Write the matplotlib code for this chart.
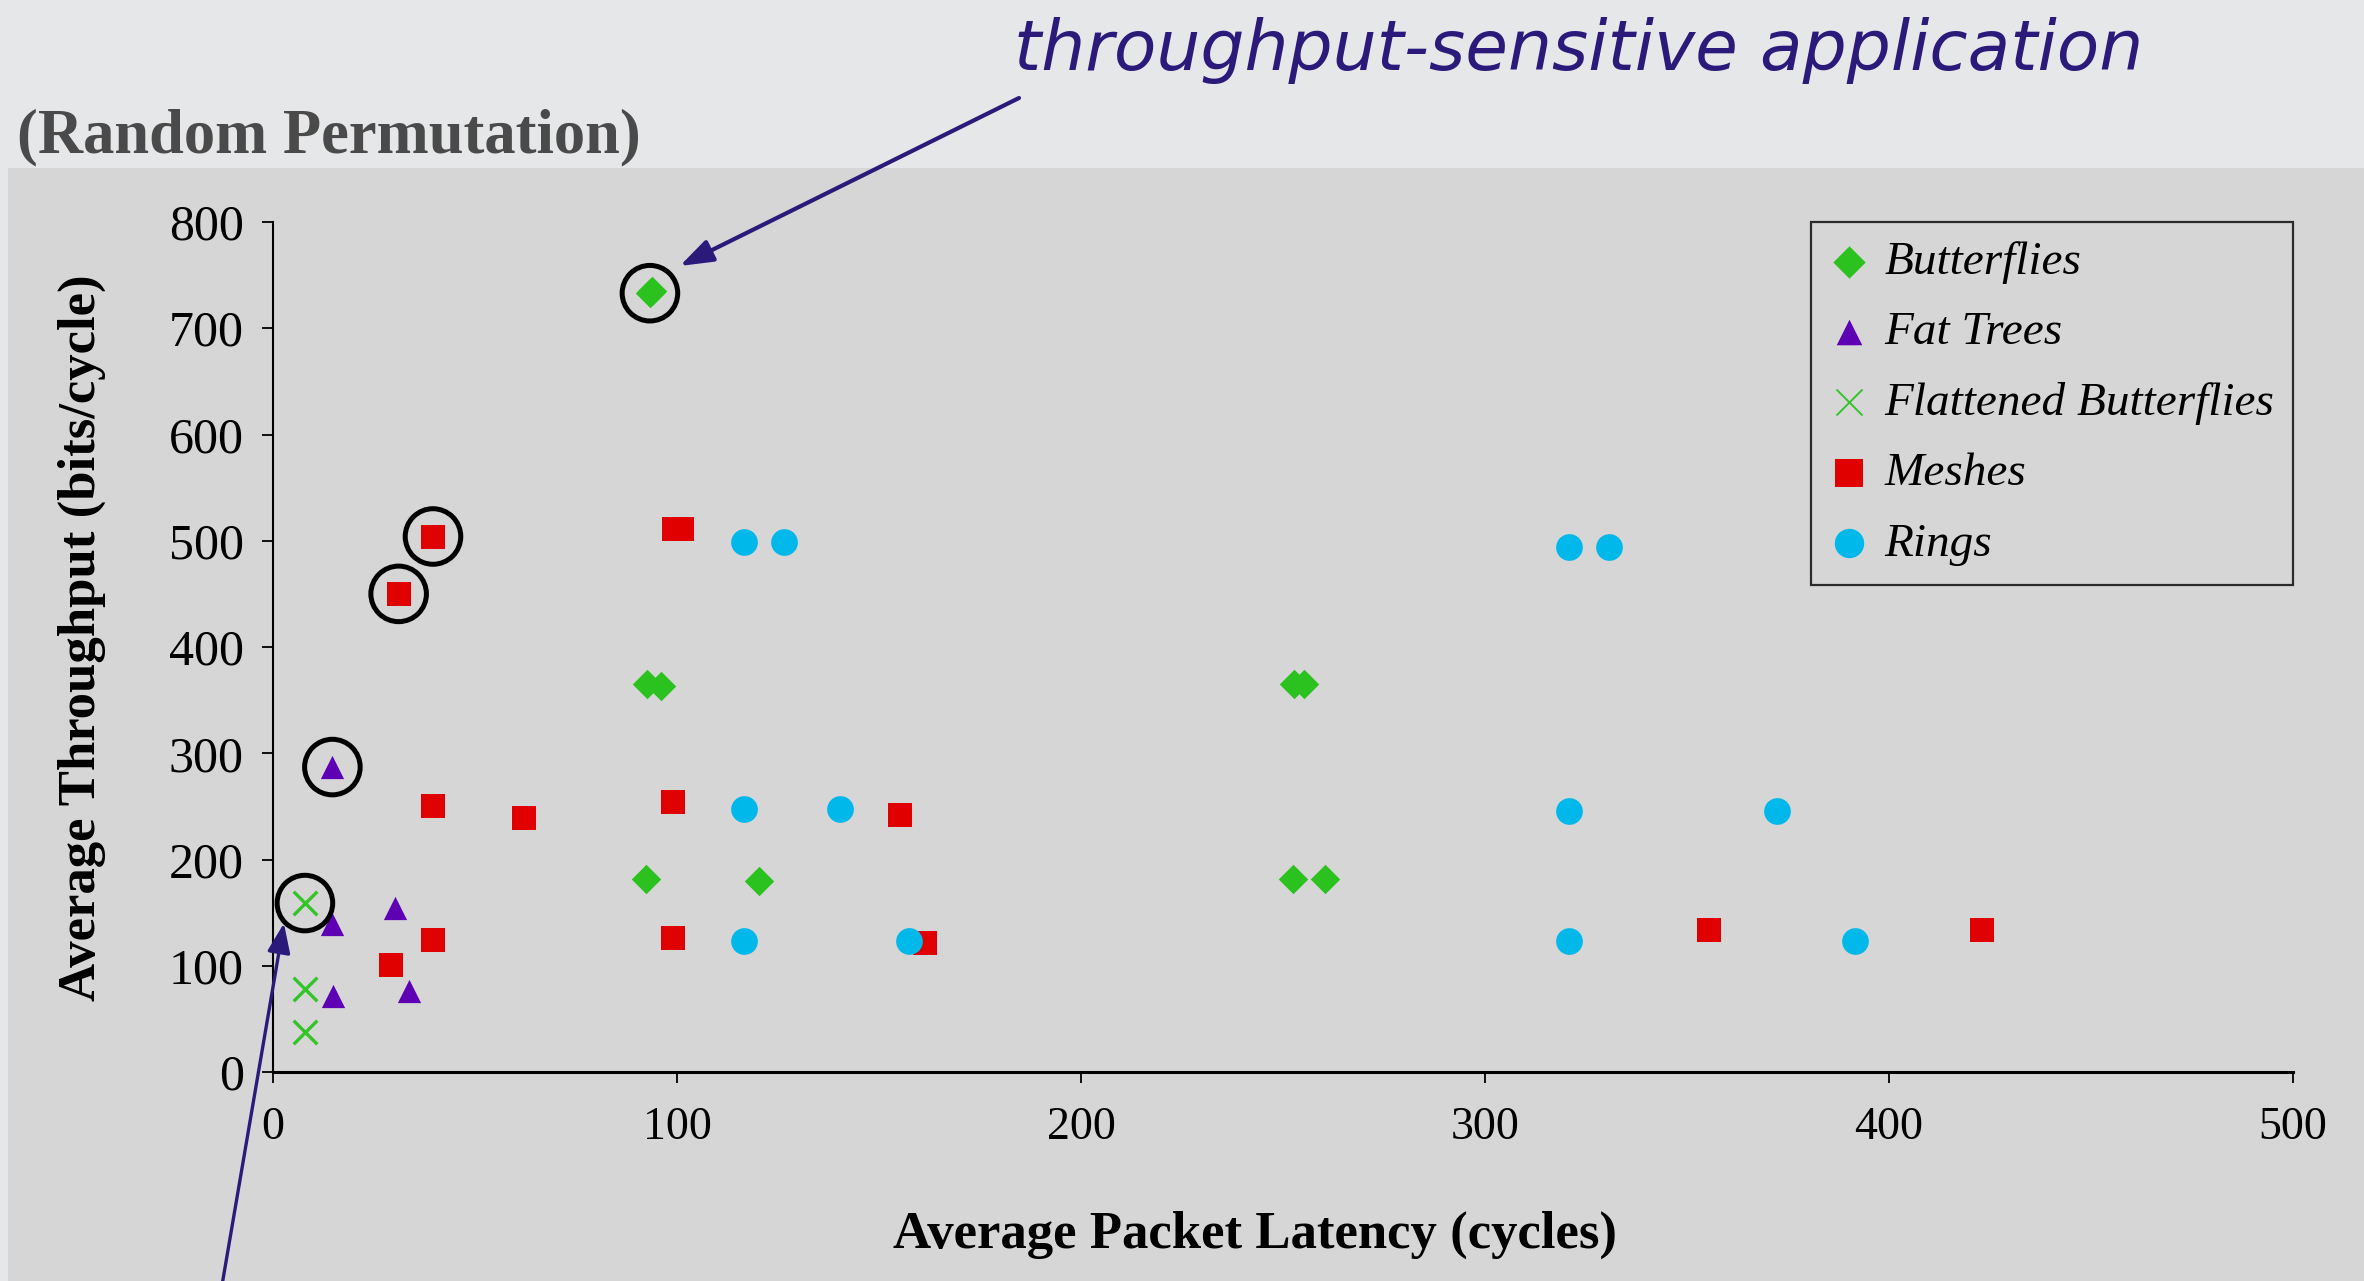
import matplotlib
matplotlib.use("Agg")
import matplotlib.pyplot as plt
from matplotlib.patches import Rectangle

# average packet latency (cycles) / average throughput (bits/cycle), random permutation traffic
butterfly_lat = [93.3, 93.9, 92.5, 96.0, 92.4, 120.4, 252.6, 255.2, 252.4, 260.4]
butterfly_thr = [733, 735, 365, 363, 182, 180, 365, 365, 182, 182]

fat_tree_lat = [14.7, 14.7, 30.3, 14.9, 33.6]
fat_tree_thr = [287, 139, 154, 72, 76]

flat_bfly_lat = [7.9, 7.9, 7.9]
flat_bfly_thr = [159, 78, 38]

mesh_lat = [39.6, 31.1, 99.2, 101.2, 39.7, 62.2, 99.1, 155.3, 29.2, 39.7, 99.1, 161.4, 355.5, 422.9]
mesh_thr = [504, 450, 511, 511, 250, 239, 254, 242, 101, 124, 126, 121, 134, 134]

ring_lat = [116.6, 126.6, 320.8, 330.7, 116.6, 140.4, 320.8, 372.4, 116.6, 157.5, 320.8, 391.5]
ring_thr = [499, 499, 494, 494, 248, 248, 246, 246, 123, 123, 123, 123]

# best configuration of each topology gets a ring around it: (series, index)
highlighted = [("butterfly", 0), ("mesh", 0), ("mesh", 1), ("fat_tree", 0), ("flat_bfly", 0)]

x_ticks = [0, 100, 200, 300, 400, 500]
y_ticks = [0, 100, 200, 300, 400, 500, 600, 700, 800]

W, H = 2364, 1281
ink = "#2b1a7a"


def main():
    plt.rcParams['font.family'] = ['Liberation Serif', 'DejaVu Serif']

    fig = plt.figure(figsize=(W / 100, H / 100), dpi=100)
    fig.patch.set_facecolor('#e6e7e9')
    fig.add_artist(Rectangle((8 / W, 0), 1, (H - 168) / H, transform=fig.transFigure,
                             facecolor='#d6d6d6', edgecolor='none', zorder=0))

    ax = fig.add_axes([273 / W, 1 - 1072 / H, 2020 / W, 850 / H])
    ax.set_facecolor('none')

    series = {
        "butterfly": (butterfly_lat, butterfly_thr),
        "fat_tree": (fat_tree_lat, fat_tree_thr),
        "flat_bfly": (flat_bfly_lat, flat_bfly_thr),
        "mesh": (mesh_lat, mesh_thr),
        "ring": (ring_lat, ring_thr),
    }

    ax.scatter(butterfly_lat, butterfly_thr, marker='D', s=225, color='#2bc21f',
               linewidths=0, label='Butterflies', zorder=3, clip_on=False)
    ax.scatter(fat_tree_lat, fat_tree_thr, marker='^', s=280, color='#5e00b4',
               linewidths=0, label='Fat Trees', zorder=3, clip_on=False)
    ax.scatter(flat_bfly_lat, flat_bfly_thr, marker='x', s=290, color='#33c42a',
               linewidths=2.4, label='Flattened Butterflies', zorder=3, clip_on=False)
    ax.scatter(mesh_lat, mesh_thr, marker='s', s=320, color='#e00000',
               linewidths=0, label='Meshes', zorder=3, clip_on=False)
    ax.scatter(ring_lat, ring_thr, marker='o', s=370, color='#00b8ea',
               linewidths=0, label='Rings', zorder=3, clip_on=False)

    # black rings around the highlighted points
    hx = [series[name][0][i] for name, i in highlighted]
    hy = [series[name][1][i] for name, i in highlighted]
    ax.scatter(hx, hy, marker='o', s=1600, facecolors='none', edgecolors='black',
               linewidths=3.6, zorder=4, clip_on=False)

    ax.set_xlim(0, 500)
    ax.set_ylim(0, 800)
    ax.set_xticks(x_ticks)
    ax.set_yticks(y_ticks)
    for side in ['top', 'right']:
        ax.spines[side].set_visible(False)
    ax.spines['left'].set_linewidth(1.5)
    ax.spines['bottom'].set_linewidth(2.2)
    ax.tick_params(axis='y', direction='out', length=8, width=1.3, pad=13, labelsize=36)
    ax.tick_params(axis='x', direction='out', length=8, width=1.3, pad=17, labelsize=33)

    ax.set_xlabel("Average Packet Latency (cycles)", fontsize=38, fontweight='bold', labelpad=44)
    ax.set_ylabel("Average Throughput (bits/cycle)", fontsize=38, fontweight='bold', labelpad=45)
    ax.xaxis.label.set_x(0.486)
    ax.yaxis.label.set_y(0.511)

    leg = ax.legend(loc='upper right', bbox_to_anchor=(1, 1), borderaxespad=0,
                    prop=dict(family='Liberation Serif', style='italic', size=34),
                    handlelength=0.8, handletextpad=0.35, labelspacing=0.58,
                    borderpad=0.4, fancybox=False, scatterpoints=1, markerscale=1.1)
    leg.get_frame().set_edgecolor('black')
    leg.get_frame().set_linewidth(1.6)
    leg.get_frame().set_facecolor('none')
    for h in leg.legend_handles:
        if h.get_label() == 'Flattened Butterflies':
            h.set_linewidths(1.4)

    fig.text(17 / W, 1 - 152 / H, "(Random Permutation)", fontsize=45, fontweight='bold',
             color='#4a4a4a', ha='left', va='baseline')

    fig.text(1579 / W, 1 - 70 / H, "throughput-sensitive application", fontsize=50,
             family=['DejaVu Sans'], style='oblique', color=ink,
             ha='center', va='baseline')

    # arrows pointing at the throughput and latency optimal points
    ax.annotate('', xy=(100.7, 758.6), xycoords='data', xytext=(1019, H - 98),
                textcoords='figure pixels', annotation_clip=False,
                arrowprops=dict(arrowstyle='-|>,head_length=2.0,head_width=0.7', mutation_scale=10,
                                color=ink, lw=3, shrinkA=0, shrinkB=0))
    ax.annotate('', xy=(2.7, 140), xycoords='data', xytext=(221, -10),
                textcoords='figure pixels', annotation_clip=False,
                arrowprops=dict(arrowstyle='-|>,head_length=1.8,head_width=0.7', mutation_scale=10,
                                color=ink, lw=2.4, shrinkA=0, shrinkB=0))

    fig.savefig("out.png", dpi=100, facecolor=fig.get_facecolor())


if __name__ == "__main__":
    main()
